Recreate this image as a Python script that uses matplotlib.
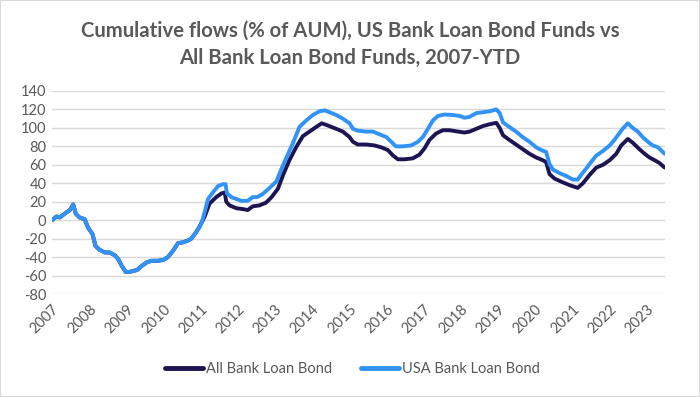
import numpy as np
import matplotlib
matplotlib.use("Agg")
from matplotlib import pyplot as plt
from matplotlib.patches import Rectangle

# decimal years
usa_x = [2007.00, 2007.03, 2007.12, 2007.21, 2007.34, 2007.48, 2007.57, 2007.64, 2007.74,
         2007.88, 2007.97, 2008.09, 2008.17, 2008.28, 2008.42, 2008.55, 2008.69, 2008.78,
         2008.87, 2008.98, 2009.09, 2009.18, 2009.29, 2009.40, 2009.54, 2009.67, 2009.85,
         2010.00, 2010.12, 2010.26, 2010.39, 2010.52, 2010.66, 2010.75, 2010.88, 2011.02,
         2011.11, 2011.20, 2011.33, 2011.47, 2011.60, 2011.67, 2011.71, 2011.83, 2011.96,
         2012.09, 2012.27, 2012.40, 2012.52, 2012.66, 2012.83, 2013.04, 2013.17, 2013.30,
         2013.48, 2013.66, 2013.84, 2014.02, 2014.20, 2014.34, 2014.47, 2014.65, 2014.83,
         2015.01, 2015.10, 2015.23, 2015.46, 2015.64, 2015.82, 2016.00, 2016.13, 2016.26,
         2016.44, 2016.67, 2016.85, 2016.98, 2017.12, 2017.25, 2017.39, 2017.57, 2017.79,
         2017.97, 2018.10, 2018.24, 2018.42, 2018.60, 2018.78, 2018.96, 2019.05, 2019.14,
         2019.31, 2019.49, 2019.67, 2019.85, 2020.03, 2020.17, 2020.30, 2020.39, 2020.48,
         2020.66, 2020.84, 2021.02, 2021.15, 2021.24, 2021.38, 2021.51, 2021.65, 2021.83,
         2022.01, 2022.14, 2022.23, 2022.36, 2022.50, 2022.63, 2022.77, 2022.90, 2023.04,
         2023.17, 2023.31, 2023.49]
usa_flows = [0, 1, 4, 3, 7, 11, 17, 7, 3,
             1, -8, -15, -28, -32, -35, -35, -38, -42,
             -49, -56, -56, -55, -54, -50, -46, -44, -44,
             -43, -40, -33, -25, -24, -22, -20, -13, -4,
             9, 23, 30, 37, 39, 39, 29, 25, 23,
             21, 21, 25, 25, 28, 34, 42, 55, 67,
             83, 101, 108, 114, 118, 119, 117, 114, 110,
             105, 99, 97, 96, 96, 93, 90, 85, 80,
             80, 81, 85, 90, 99, 108, 113, 114.5, 114,
             113, 111, 112, 116, 117, 118, 120, 116, 106,
             101, 96, 90, 85, 79, 76, 74, 61, 55,
             51, 48, 44, 44, 49, 56, 63, 70, 75,
             81, 87, 92, 99, 105, 100, 96, 90, 85,
             81, 79, 72]

all_x = [2007.00, 2007.03, 2007.12, 2007.21, 2007.34, 2007.48, 2007.57, 2007.64, 2007.74,
         2007.88, 2007.97, 2008.09, 2008.17, 2008.28, 2008.42, 2008.55, 2008.69, 2008.78,
         2008.87, 2008.98, 2009.09, 2009.18, 2009.29, 2009.40, 2009.54, 2009.67, 2009.85,
         2010.00, 2010.12, 2010.26, 2010.39, 2010.52, 2010.66, 2010.75, 2010.88, 2010.97,
         2011.11, 2011.24, 2011.42, 2011.56, 2011.65, 2011.69, 2011.78, 2011.96, 2012.14,
         2012.27, 2012.40, 2012.58, 2012.76, 2012.91, 2013.08, 2013.22, 2013.39, 2013.57,
         2013.75, 2013.93, 2014.11, 2014.26, 2014.40, 2014.65, 2014.83, 2015.01, 2015.10,
         2015.23, 2015.46, 2015.68, 2015.86, 2016.04, 2016.18, 2016.31, 2016.49, 2016.71,
         2016.89, 2017.03, 2017.16, 2017.34, 2017.52, 2017.70, 2017.93, 2018.10, 2018.24,
         2018.42, 2018.60, 2018.78, 2018.96, 2019.05, 2019.14, 2019.31, 2019.49, 2019.67,
         2019.85, 2020.03, 2020.21, 2020.30, 2020.39, 2020.53, 2020.75, 2020.93, 2021.15,
         2021.29, 2021.47, 2021.65, 2021.83, 2022.01, 2022.19, 2022.32, 2022.50, 2022.63,
         2022.81, 2022.95, 2023.08, 2023.22, 2023.35, 2023.49]
all_flows = [0, 1, 4, 3, 7, 11, 17, 7, 3,
             1, -8, -15, -28, -32, -35, -35, -38, -42,
             -49, -56, -56, -55, -54, -50, -46, -44, -44,
             -43, -40, -33, -25, -24, -22, -20, -13, -7,
             4, 18, 25, 29, 30, 20, 16, 13, 12,
             11, 15, 16, 19, 25, 34, 49, 65, 79,
             91, 96, 101, 105, 103, 99, 96, 90, 85,
             82, 82, 81, 79, 76, 70, 66, 66, 67,
             71, 78, 87, 94, 97.5, 97.5, 96, 95, 96,
             99, 102, 104, 105.5, 100, 92, 87, 82, 77,
             72, 68, 65, 63, 50, 45, 41, 38, 35,
             40, 49, 57, 60, 65, 72, 81, 88, 84,
             77, 72, 68, 65, 62, 57]

years = list(range(2007, 2024))
yticks = list(range(-80, 141, 20))

navy = "#1c1552"
blue = "#3193f5"
grey = "#595959"
font = "Lato"

fig = plt.figure(figsize=(7, 3.97), dpi=100)
fig.patches.append(Rectangle((0, 0), 1, 1, transform=fig.transFigure, fill=False,
                             edgecolor="#d9d9d9", linewidth=1.5))
ax = fig.add_axes([0.0743, 0.2594, 0.8757, 0.5114])

ax.plot(all_x, all_flows, color=navy, linewidth=2.8, label="All Bank Loan Bond",
        solid_capstyle="round", solid_joinstyle="round")
ax.plot(usa_x, usa_flows, color=blue, linewidth=2.8, label="USA Bank Loan Bond",
        solid_capstyle="round", solid_joinstyle="round")

ax.set_xlim(2007, 2023.5)
ax.set_ylim(-80, 140)
ax.set_yticks(yticks)
ax.set_xticks(years)
ax.set_xticklabels([str(y) for y in years], rotation=45, ha="right", va="top",
                   rotation_mode="anchor", fontsize=10.5, color=grey, family=font)
ax.set_yticklabels([str(v) for v in yticks], fontsize=10.5, color=grey, family=font)
ax.tick_params(length=0, pad=4)
ax.tick_params(axis="x", pad=6)
ax.grid(axis="y", color="#d9d9d9", linewidth=1)
ax.set_axisbelow(True)
for s in ax.spines.values():
    s.set_visible(False)

fig.text(0.5, 0.924, "Cumulative flows (% of AUM), US Bank Loan Bond Funds vs",
         ha="center", va="center", fontsize=14.6, fontweight="bold", color=grey, family=font)
fig.text(0.5, 0.854, "All Bank Loan Bond Funds, 2007-YTD",
         ha="center", va="center", fontsize=14.6, fontweight="bold", color=grey, family=font)

fig.legend(loc="center", bbox_to_anchor=(0.503, 0.0705), ncol=2, frameon=False,
           handlelength=2.6, handletextpad=0.2, columnspacing=2.0,
           prop={"family": font, "size": 10.5}, labelcolor=grey)
for line in fig.legends[0].get_lines():
    line.set_linewidth(3.5)

fig.savefig("out.png", dpi=100)
